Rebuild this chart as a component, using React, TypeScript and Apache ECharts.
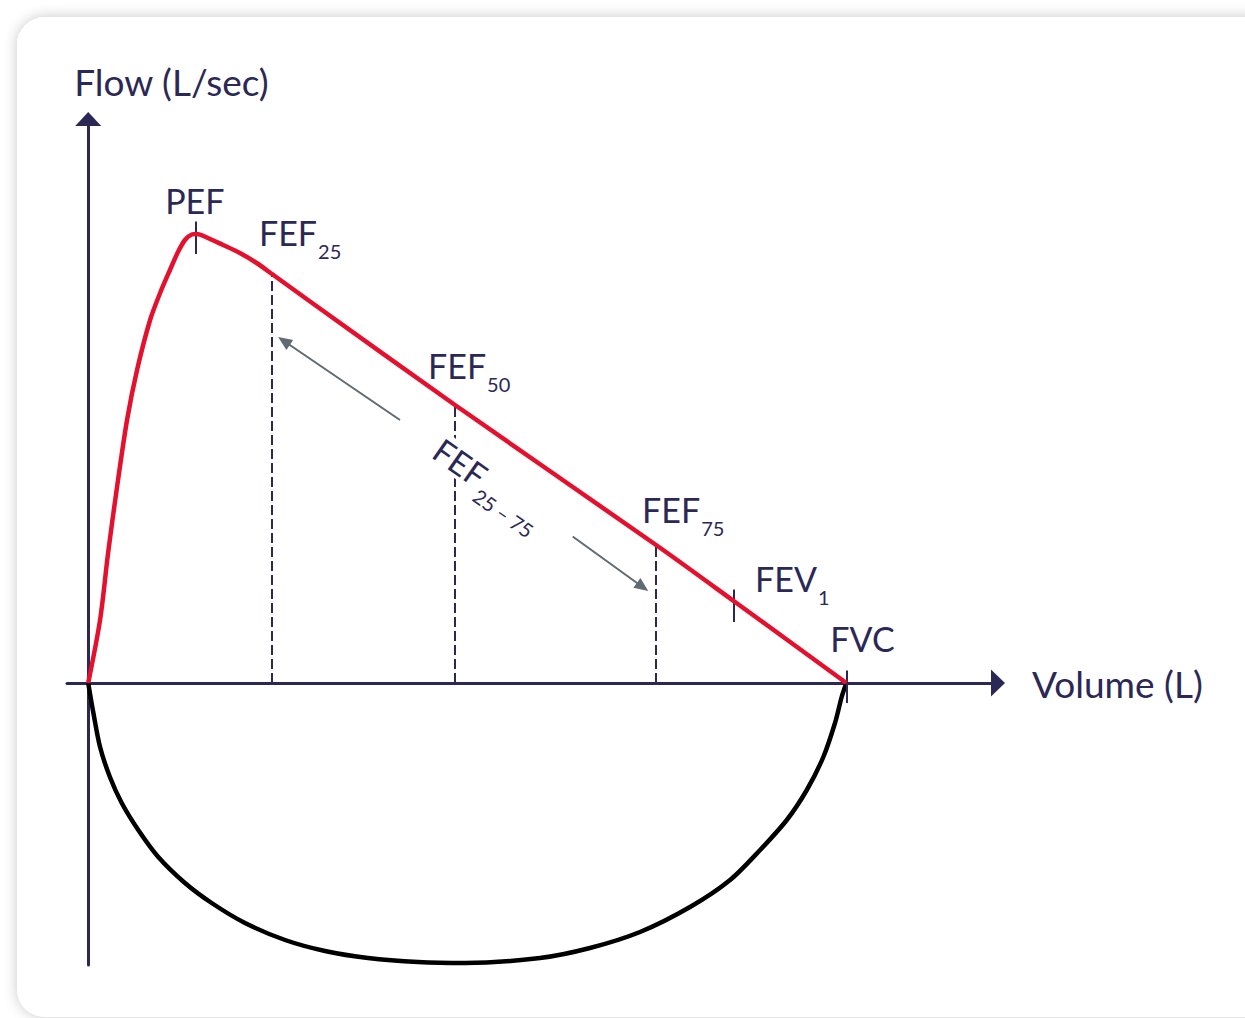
import React, { useEffect, useRef } from 'react';
import * as echarts from 'echarts';

// Expiratory limb (volume L, flow L/s)
const expVolume = [0, 0.078, 0.131, 0.19, 0.256, 0.322, 0.408, 0.474, 0.539, 0.592, 0.638, 0.683, 0.716, 0.782, 0.889, 1.0, 1.111, 1.212, 1.463, 2.419, 3.745, 4.266, 5.0];
const expFlow = [0, 1.26, 2.6, 3.92, 5.26, 6.26, 7.26, 7.8, 8.26, 8.62, 8.86, 8.97, 8.98, 8.91, 8.76, 8.6, 8.4, 8.18, 7.63, 5.56, 2.76, 1.62, 0];

// Inspiratory limb
const inspVolume = [0, 0.034, 0.078, 0.143, 0.221, 0.33, 0.462, 0.638, 0.814, 1.034, 1.298, 1.562, 1.845, 2.175, 2.485, 2.979, 3.309, 3.639, 3.969, 4.233, 4.431, 4.607, 4.739, 4.848, 4.925, 4.969, 5.0];
const inspFlow = [0, -0.6, -1.28, -1.88, -2.4, -2.94, -3.48, -4.0, -4.4, -4.8, -5.14, -5.36, -5.5, -5.58, -5.6, -5.5, -5.3, -4.98, -4.48, -3.94, -3.34, -2.74, -2.14, -1.48, -0.8, -0.28, 0];

// Landmarks
const featureMain = ['PEF', 'FEF', 'FEF', 'FEF', 'FEV', 'FVC'];
const featureSub = ['', '25', '50', '75', '1', ''];
const featureVolume = [0.712, 1.212, 2.419, 3.745, 4.259, 5.0];
const featureFlow = [8.98, 8.18, 5.56, 2.76, 1.62, 0];
const dashedIdx = [1, 2, 3];
const tickIdx = [0, 4, 5];

// FEF25-75 range arrows [volume, flow]
const rangeArrowFrom = [[2.056, 5.26], [3.195, 2.93]];
const rangeArrowTo = [[1.291, 6.84], [3.656, 1.92]];
const rangeLabelMain = 'FEF';
const rangeLabelSub = '25 – 75';

const NAVY = '#2b2856';
const RED = '#e4112e';
const GRAY = '#5f6a72';
const FONT = 'Lato';

const labelOffsets: Record<number, number[]> = {
  0: [-31, -55],
  1: [-13, -71],
  2: [-27, -69],
  3: [-14, -65],
  4: [21, -53],
  5: [-16, -66],
};

const rich = {
  m: { fontSize: 34, fontFamily: FONT, color: NAVY, lineHeight: 42 },
  s: { fontSize: 20, fontFamily: FONT, color: NAVY, padding: [38, 0, 0, 1], verticalAlign: 'top' },
};

function buildOption() {
  const expData = expVolume.map((v, i) => [v, expFlow[i]]);
  const inspData = inspVolume.map((v, i) => [v, inspFlow[i]]);

  const labelData: any[] = featureMain.map((m, i) => ({
    value: [featureVolume[i], featureFlow[i]],
    label: {
      show: true,
      opacity: 1,
      position: labelOffsets[i],
      align: 'left',
      verticalAlign: 'top',
      formatter: featureSub[i] ? `{m|${m}}{s|${featureSub[i]}}` : `{m|${m}}`,
      rich,
    },
  }));
  labelData.push({
    value: [featureVolume[2], featureFlow[2]],
    label: {
      show: true,
      opacity: 1,
      position: [-2, 19],
      align: 'left',
      verticalAlign: 'top',
      rotate: -35,
      formatter: `{m|${rangeLabelMain}}{s|${rangeLabelSub}}`,
      rich: {
        m: { fontSize: 33, fontFamily: FONT, color: NAVY, lineHeight: 40, backgroundColor: '#ffffff' },
        s: { fontSize: 20, fontFamily: FONT, color: NAVY, padding: [34, 0, 0, 2], verticalAlign: 'top' },
      },
    },
  });

  const dashedLines = dashedIdx.map((i) => [
    { coord: [featureVolume[i], 0] },
    { coord: [featureVolume[i], featureFlow[i]] },
  ]);
  const tickLines = tickIdx.map((i) => [
    { coord: [featureVolume[i], featureFlow[i] + 0.25] },
    { coord: [featureVolume[i], featureFlow[i] - 0.4] },
  ]);
  const arrowLines = rangeArrowFrom.map((f, i) => [
    { coord: f },
    { coord: rangeArrowTo[i] },
  ]);

  return {
    animation: false,
    backgroundColor: '#ffffff',
    graphic: {
      elements: [
        {
          type: 'rect',
          z: -10,
          silent: true,
          shape: { x: 17, y: 17, width: 1275, height: 1000, r: 28 },
          style: { fill: '#ffffff', shadowBlur: 14, shadowColor: 'rgba(0,0,0,0.22)', shadowOffsetX: 0, shadowOffsetY: 0 },
        },
      ],
    },
    grid: { left: 67, right: 247, top: 119, bottom: 53, containLabel: false },
    xAxis: {
      type: 'value',
      min: -0.14,
      max: 6.0,
      name: 'Volume (L)',
      nameLocation: 'end',
      nameGap: 34,
      nameTextStyle: { fontFamily: FONT, fontSize: 37, color: NAVY, verticalAlign: 'middle', align: 'left', padding: [0, 0, 8, 0] },
      axisLine: { onZero: true, symbol: ['none', 'triangle'], symbolSize: [27, 14], lineStyle: { color: NAVY, width: 3 } },
      axisTick: { show: false },
      axisLabel: { show: false },
      splitLine: { show: false },
    },
    yAxis: {
      type: 'value',
      min: -5.64,
      max: 11.28,
      name: 'Flow (L/sec)',
      nameLocation: 'end',
      nameGap: 19,
      nameTextStyle: { fontFamily: FONT, fontSize: 37, color: NAVY, align: 'left', padding: [0, 0, 0, -14] },
      axisLine: { onZero: true, symbol: ['none', 'triangle'], symbolSize: [26, 14], lineStyle: { color: NAVY, width: 3 } },
      axisTick: { show: false },
      axisLabel: { show: false },
      splitLine: { show: false },
    },
    series: [
      {
        name: 'Dashed',
        type: 'line',
        data: [],
        z: 3,
        markLine: {
          silent: true,
          symbol: ['none', 'none'],
          label: { show: false },
          lineStyle: { color: NAVY, width: 2, type: [10, 4] },
          emphasis: { disabled: true },
          data: dashedLines,
        },
      },
      {
        name: 'Inspiration',
        type: 'line',
        data: inspData,
        showSymbol: false,
        smooth: 0.3,
        lineStyle: { color: '#000000', width: 4.5 },
        itemStyle: { color: '#000000' },
        z: 4,
      },
      {
        name: 'Expiration',
        type: 'line',
        data: expData,
        showSymbol: false,
        smooth: 0.3,
        lineStyle: { color: RED, width: 4.5 },
        itemStyle: { color: RED },
        z: 5,
      },
      {
        name: 'Ticks',
        type: 'line',
        data: [],
        z: 6,
        markLine: {
          silent: true,
          symbol: ['none', 'none'],
          label: { show: false },
          lineStyle: { color: NAVY, width: 2, type: 'solid' },
          emphasis: { disabled: true },
          data: tickLines,
        },
      },
      {
        name: 'Range arrows',
        type: 'line',
        data: [],
        z: 6,
        markLine: {
          silent: true,
          symbol: ['none', 'triangle'],
          symbolSize: [12, 14],
          label: { show: false },
          lineStyle: { color: GRAY, width: 2, type: 'solid' },
          itemStyle: { color: GRAY },
          emphasis: { disabled: true },
          data: arrowLines,
        },
      },
      {
        name: 'Labels',
        type: 'scatter',
        symbolSize: 0,
        silent: true,
        z: 7,
        itemStyle: { opacity: 1 },
        data: labelData,
      },
    ],
  };
}

export default function App() {
  const ref = useRef<HTMLDivElement>(null);
  useEffect(() => {
    const chart = echarts.init(ref.current!, null, { renderer: 'svg' });
    chart.setOption(buildOption() as any);
    return () => chart.dispose();
  }, []);
  return <div ref={ref} style={{ position: 'fixed', left: 0, top: 0, width: 1245, height: 1018 }} />;
}
